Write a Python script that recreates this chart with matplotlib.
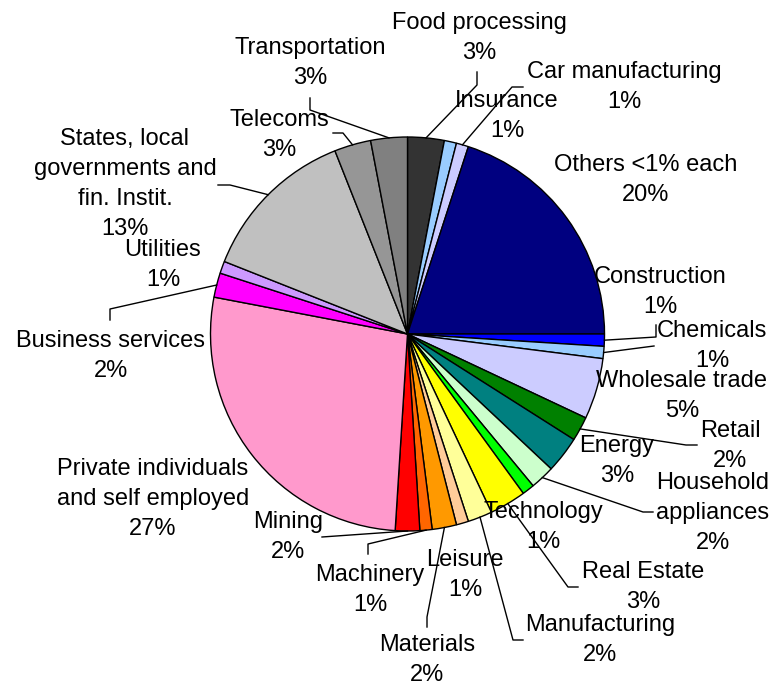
import matplotlib.pyplot as plt
import numpy as np

# exposure by sector, clockwise from 12 o'clock
sectors = ['Food processing', 'Insurance', 'Car manufacturing', 'Others <1% each',
           'Construction', 'Chemicals', 'Wholesale trade', 'Retail', 'Energy',
           'Household\nappliances', 'Technology', 'Real Estate', 'Manufacturing',
           'Leisure', 'Materials', 'Machinery', 'Mining',
           'Private individuals\nand self employed', 'Business services', 'Utilities',
           'States, local\ngovernments and\nfin. Instit.', 'Telecoms', 'Transportation']
shares = [3, 1, 1, 20, 1, 1, 5, 2, 3, 2, 1, 3, 2, 1, 2, 1, 2, 27, 2, 1, 13, 3, 3]
colors = ['#333333', '#99CCFF', '#CCCCFF', '#000080', '#0000FF', '#99CCFF', '#CCCCFF',
          '#008000', '#008080', '#CCFFCC', '#00FF00', '#FFFF00', '#FFFF99', '#FFCC99',
          '#FF9900', '#FF6600', '#FF0000', '#FF99CC', '#FF00FF', '#CC99FF', '#C0C0C0',
          '#969696', '#808080']

# label centres and leader line bends, in pixels from the top-left corner
label_xy = [(479, 38), (507, 116), (624, 87), (646, 180), (660, 292), (712, 346),
            (682, 396), (730, 446), (617, 461), (713, 513), (543, 527), (643, 587),
            (600, 640), (465, 575), (427, 660), (370, 590), (288, 537), (153, 499),
            (111, 356), (163, 265), (125, 184), (279, 135), (310, 63)]
leaders = [[(477, 85), (477, 72)], None, [(512, 87), (523, 87)], None,
           [(656, 337), (656, 325)], [(654, 346)], None, [(686, 445), (697, 445)], None,
           [(643, 512), (653, 512)], None, [(568, 587), (578, 587)],
           [(513, 640), (523, 640)], None, [(427, 617), (427, 627)],
           [(368, 544), (368, 554)], [(322, 537)], None,
           [(110, 309), (110, 320)], None, [(230, 185), (218, 185)],
           [(343, 133), (333, 133)], [(310, 110), (310, 98)]]

cx, cy, r = 407.5, 334, 197
line_h = 30

fig = plt.figure(figsize=(7.72, 6.86), dpi=100)
ax = fig.add_axes([0, 0, 1, 1])
# y axis runs downward, so counterclock=True turns clockwise on screen
wedges, _ = ax.pie(shares, colors=colors, startangle=-90, counterclock=True,
                   center=(cx, cy), radius=r,
                   wedgeprops=dict(edgecolor='black', linewidth=1.0))
ax.set_xlim(0, 772)
ax.set_ylim(686, 0)
ax.axis('off')

for w, name, val, (tx, ty), bend in zip(wedges, sectors, shares, label_xy, leaders):
    if bend is not None:
        mid = np.deg2rad((w.theta1 + w.theta2) / 2)
        pts = [(cx + r * np.cos(mid), cy + r * np.sin(mid))] + bend
        xs, ys = zip(*pts)
        ax.plot(xs, ys, color='black', lw=1.0, zorder=3)
    lines = name.split('\n') + [f'{val}%']
    for i, s in enumerate(lines):
        y = ty + (i - (len(lines) - 1) / 2) * line_h
        ax.text(tx, y, s, ha='center', va='center', fontsize=17,
                family='Liberation Sans', zorder=4)

fig.savefig('out.png', dpi=100)
